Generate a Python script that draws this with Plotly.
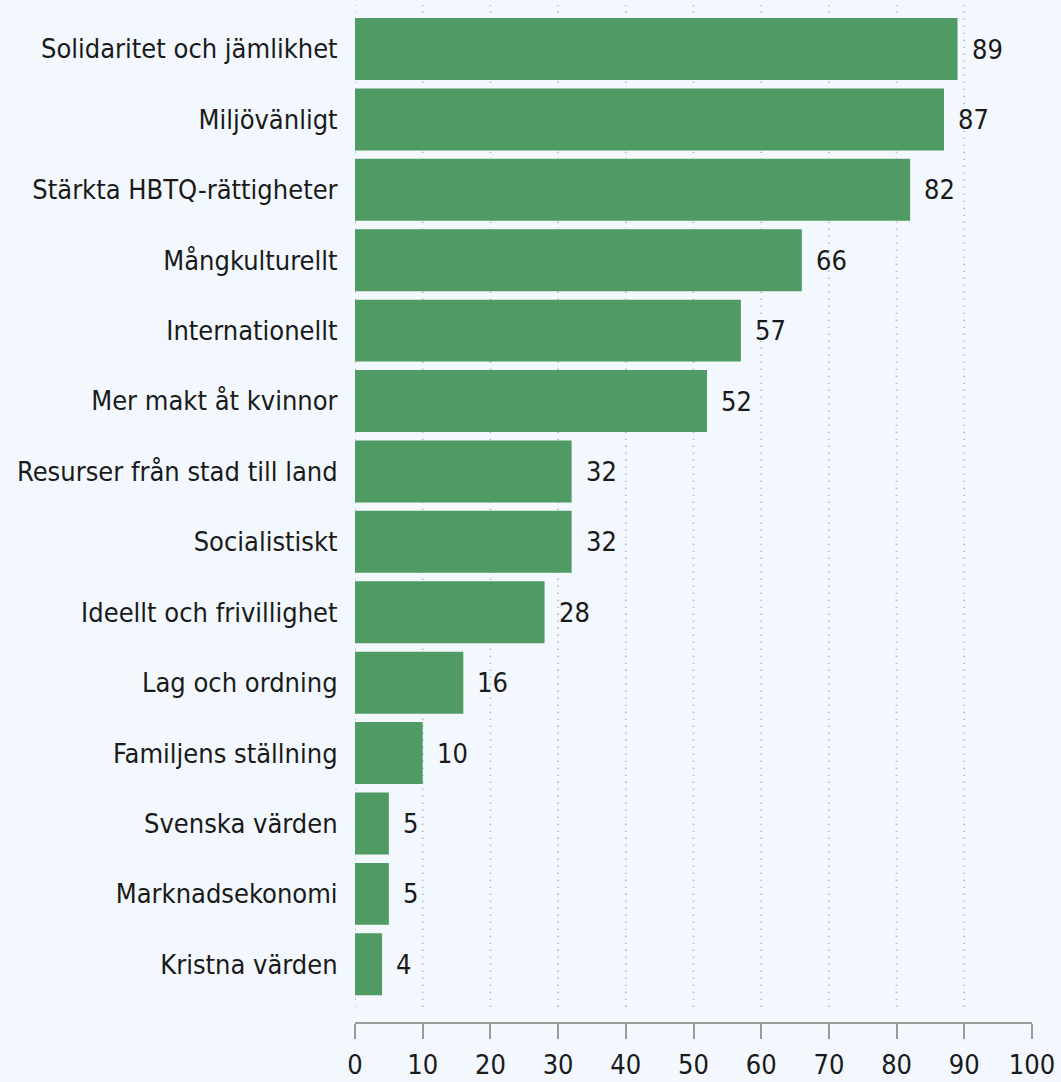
import plotly.graph_objects as go

# Share of respondents (%) per value, sorted from highest to lowest
categories = [
    "Solidaritet och jämlikhet",
    "Miljövänligt",
    "Stärkta HBTQ-rättigheter",
    "Mångkulturellt",
    "Internationellt",
    "Mer makt åt kvinnor",
    "Resurser från stad till land",
    "Socialistiskt",
    "Ideellt och frivillighet",
    "Lag och ordning",
    "Familjens ställning",
    "Svenska värden",
    "Marknadsekonomi",
    "Kristna värden",
]
values = [89, 87, 82, 66, 57, 52, 32, 32, 28, 16, 10, 5, 5, 4]

tick_vals = list(range(0, 101, 10))
grid_vals = list(range(0, 91, 10))

BG = "#f2f8fd"
BAR = "#4f9b63"
FONT = "DejaVu Sans Condensed, Roboto, sans-serif"
TXT = "#1a1a1a"
SIZE = 27

fig = go.Figure(
    go.Bar(
        x=values,
        y=categories,
        orientation="h",
        marker=dict(color=BAR, line=dict(width=0)),
        hoverinfo="x+y",
    )
)

# Value labels just to the right of each bar
for cat, v in zip(categories, values):
    fig.add_annotation(
        x=v, y=cat, xref="x", yref="y",
        text=str(v), showarrow=False,
        xanchor="left", yanchor="middle", xshift=12,
        font=dict(family=FONT, size=SIZE, color=TXT),
    )

# Dotted vertical guides, stopping just above the axis line
for gx in grid_vals:
    fig.add_shape(
        type="line",
        xref="x", yref="y",
        x0=gx, x1=gx, y0=-0.63, y1=13.68,
        line=dict(color="#a9adb2", width=2, dash="1px,6px"),
        layer="below",
    )

fig.update_layout(
    width=1061,
    height=1082,
    margin=dict(l=355, r=29, t=5, b=60, autoexpand=False),
    paper_bgcolor=BG,
    plot_bgcolor=BG,
    bargap=0.12,
    showlegend=False,
    font=dict(family=FONT, size=SIZE, color=TXT),
)

fig.update_xaxes(
    range=[0, 100],
    tickvals=tick_vals,
    showgrid=False,
    zeroline=False,
    showline=True,
    linecolor="#9a9a9a",
    linewidth=2,
    ticks="outside",
    ticklen=15,
    tickwidth=2,
    tickcolor="#9a9a9a",
    ticklabelstandoff=3,
    automargin=False,
    tickfont=dict(family=FONT, size=SIZE, color=TXT),
)

fig.update_yaxes(
    range=[13.82, -0.625],
    showgrid=False,
    zeroline=False,
    showline=False,
    ticks="outside",
    ticklen=11,
    tickcolor="rgba(0,0,0,0)",
    automargin=False,
    tickfont=dict(family=FONT, size=SIZE, color=TXT),
)

fig.write_html("out.html")
